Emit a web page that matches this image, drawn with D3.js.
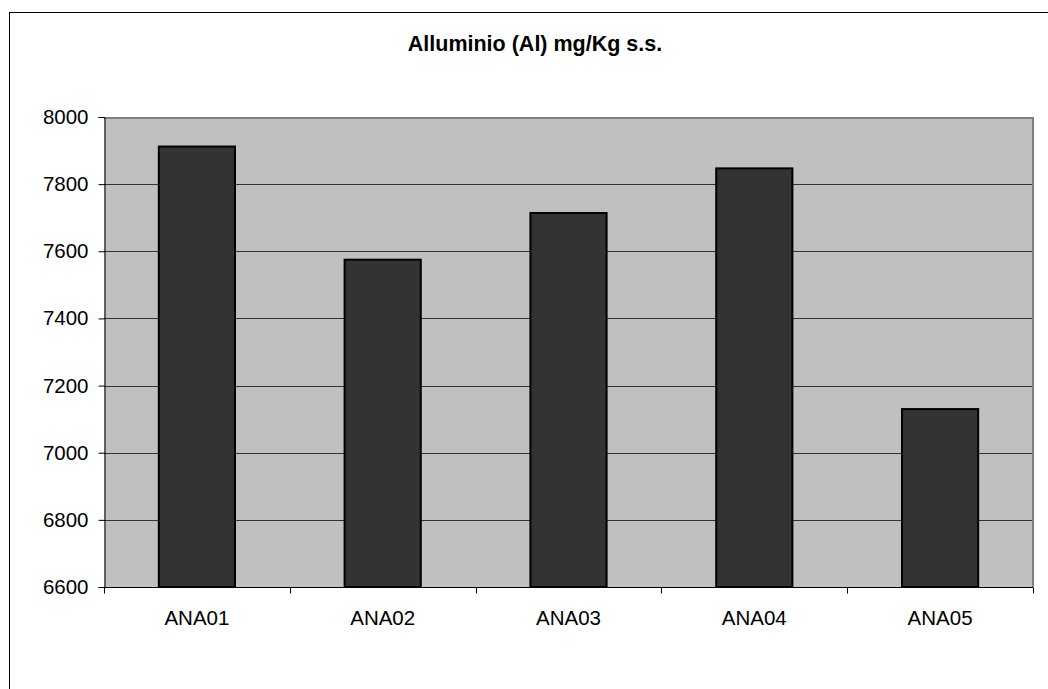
<!DOCTYPE html>
<html>
<head>
<meta charset="utf-8">
<script src="https://cdn.jsdelivr.net/npm/d3@7"></script>
<style>
  html, body { margin: 0; padding: 0; background: #ffffff; }
  svg { display: block; }
  text { font-family: "Liberation Sans", Arial, sans-serif; fill: #000; }
</style>
</head>
<body>
<svg id="chart" width="1048" height="689"></svg>
<script>
// Aluminium concentration per sampling station
const categories = ["ANA01", "ANA02", "ANA03", "ANA04", "ANA05"];
const values = [7912, 7575, 7714, 7847, 7130];
const yTicks = [6600, 6800, 7000, 7200, 7400, 7600, 7800, 8000];
const title = "Alluminio (Al) mg/Kg s.s.";

const svg = d3.select("#chart");

// outer chart frame (extends past the right/bottom edges of the view)
svg.append("rect")
  .attr("x", 9.5).attr("y", 12.5)
  .attr("width", 1052).attr("height", 700)
  .attr("fill", "#fff").attr("stroke", "#000").attr("stroke-width", 1);

const plot = { left: 104, right: 1033, top: 117, bottom: 587 };

const x = d3.scaleBand()
  .domain(categories)
  .range([plot.left, plot.right])
  .paddingInner(0.59)
  .paddingOuter(0.295);

const y = d3.scaleLinear()
  .domain([6600, 8000])
  .range([plot.bottom, plot.top]);

// plot background
svg.append("rect")
  .attr("x", plot.left).attr("y", plot.top)
  .attr("width", plot.right - plot.left)
  .attr("height", plot.bottom - plot.top)
  .attr("fill", "#c0c0c0");

// horizontal gridlines
svg.append("g")
  .selectAll("line")
  .data(yTicks.filter(t => t > 6600 && t < 8000))
  .join("line")
  .attr("x1", plot.left).attr("x2", plot.right)
  .attr("y1", d => Math.round(y(d)) + 0.5)
  .attr("y2", d => Math.round(y(d)) + 0.5)
  .attr("stroke", "#333").attr("stroke-width", 1);

// gray frame on top and right of the plot
svg.append("path")
  .attr("d", `M${plot.left},${plot.top + 1}H${plot.right}V${plot.bottom}`)
  .attr("fill", "none").attr("stroke", "#808080").attr("stroke-width", 2);

// bars
svg.append("g")
  .selectAll("rect")
  .data(categories.map((c, i) => ({ c, v: values[i] })))
  .join("rect")
  .attr("x", d => x(d.c))
  .attr("y", d => y(d.v))
  .attr("width", x.bandwidth())
  .attr("height", d => y(6600) - y(d.v))
  .attr("fill", "#333333")
  .attr("stroke", "#000").attr("stroke-width", 2);

// y axis
const yAxis = d3.axisLeft(y)
  .tickValues(yTicks)
  .tickFormat(d3.format("d"))
  .tickSize(6)
  .tickPadding(10);
const gy = svg.append("g")
  .attr("transform", `translate(${plot.left + 0.5},0)`)
  .call(yAxis);
gy.select(".domain").attr("stroke", "#000");
gy.selectAll(".tick line").attr("stroke", "#000");
gy.selectAll(".tick text")
  .style("font-size", "20.5px")
  .attr("font-family", "Liberation Sans, Arial, sans-serif");

// x axis: baseline with ticks at category boundaries
const gx = svg.append("g")
  .attr("transform", `translate(0,${plot.bottom + 0.5})`);
gx.append("line")
  .attr("x1", plot.left).attr("x2", plot.right)
  .attr("stroke", "#000");
const step = x.step();
gx.selectAll("line.tk")
  .data(d3.range(categories.length + 1))
  .join("line")
  .attr("class", "tk")
  .attr("x1", i => Math.round(plot.left + i * step) + 0.5)
  .attr("x2", i => Math.round(plot.left + i * step) + 0.5)
  .attr("y1", 0).attr("y2", 6)
  .attr("stroke", "#000");
gx.selectAll("text")
  .data(categories)
  .join("text")
  .attr("x", d => x(d) + x.bandwidth() / 2)
  .attr("y", 37)
  .attr("text-anchor", "middle")
  .style("font-size", "20.5px")
  .text(d => d);

// title
svg.append("text")
  .attr("x", 535)
  .attr("y", 51)
  .attr("text-anchor", "middle")
  .style("font-size", "21.5px")
  .style("font-weight", "bold")
  .text(title);
</script>
</body>
</html>
